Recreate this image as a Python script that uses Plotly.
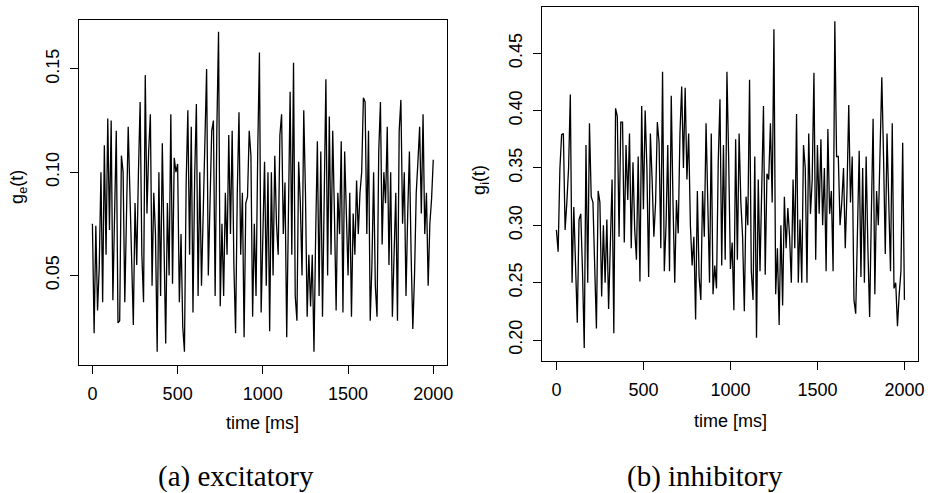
import plotly.graph_objects as go

# ---------------- data ----------------
time_ms = list(range(0, 2001, 10))

g_exc = [
    0.075, 0.022, 0.074, 0.033, 0.054, 0.100, 0.037, 0.113, 0.060, 0.126,
    0.072, 0.125, 0.038, 0.085, 0.120, 0.027, 0.028, 0.108, 0.100, 0.037,
    0.085, 0.122,
    # 220 ..
    0.090, 0.060, 0.026, 0.085, 0.055, 0.100, 0.134, 0.060, 0.037, 0.147,
    0.080, 0.110, 0.128, 0.045, 0.090, 0.070, 0.013, 0.100, 0.040, 0.114,
    0.060, 0.017, 0.085, 0.050, 0.128, 0.046, 0.107, 0.100, 0.104, 0.037,
    0.070, 0.025, 0.013, 0.095, 0.130, 0.060, 0.122, 0.032, 0.098, 0.133,
    0.040, 0.100, 0.045, 0.080, 0.110, 0.150, 0.050, 0.093, 0.120, 0.125,
    0.040, 0.120, 0.168, 0.035, 0.075, 0.040, 0.090, 0.060, 0.118, 0.070,
    0.120, 0.055, 0.022, 0.090,
    # 860 ..
    0.129, 0.060, 0.090, 0.020, 0.085, 0.088, 0.120, 0.108, 0.030, 0.075,
    0.040, 0.110, 0.158, 0.032, 0.070, 0.105, 0.045, 0.100, 0.023, 0.100,
    0.050, 0.108, 0.075, 0.060, 0.118, 0.128, 0.070, 0.095, 0.020, 0.070,
    0.139, 0.060, 0.153, 0.040, 0.028, 0.105, 0.085, 0.050, 0.130, 0.090,
    0.030, 0.060, 0.035, 0.060, 0.013, 0.070, 0.115, 0.040, 0.110, 0.030,
    0.090, 0.145, 0.050, 0.127, 0.060, 0.120, 0.080, 0.033, 0.090, 0.070,
    0.115, 0.032, 0.110, 0.080,
    # 1500 ..
    0.050, 0.090, 0.030, 0.080, 0.060, 0.096, 0.070, 0.090, 0.100, 0.136,
    0.134, 0.070, 0.120, 0.028, 0.055, 0.100, 0.045, 0.030, 0.110, 0.134,
    0.065, 0.100, 0.085, 0.122, 0.055, 0.100, 0.030, 0.060, 0.090, 0.028,
    0.120, 0.135, 0.075, 0.100, 0.040, 0.080, 0.110, 0.060, 0.024, 0.050,
    0.090, 0.105, 0.122, 0.080, 0.128, 0.070, 0.090, 0.045, 0.075, 0.087,
    0.106,
]

g_inh = [
    0.296, 0.277, 0.349, 0.379, 0.380, 0.296, 0.320, 0.350, 0.414, 0.250,
    0.316, 0.270, 0.215, 0.305, 0.310, 0.260, 0.193, 0.370, 0.250, 0.389,
    0.325, 0.320, 0.264, 0.210, 0.330, 0.320, 0.238, 0.300, 0.250, 0.305,
    0.227, 0.290, 0.340, 0.206, 0.402, 0.395, 0.290, 0.390, 0.390, 0.285,
    0.370, 0.322, 0.380, 0.280, 0.355, 0.296, 0.270, 0.360, 0.251, 0.404,
    0.314, 0.400, 0.350, 0.255, 0.380, 0.340, 0.290, 0.320, 0.390, 0.372,
    # 600 ..
    0.280, 0.434, 0.260, 0.300, 0.370, 0.260, 0.413, 0.320, 0.250, 0.322,
    0.293, 0.380, 0.421, 0.350, 0.420, 0.340, 0.380, 0.300, 0.265, 0.290,
    0.218, 0.330, 0.255, 0.235, 0.330, 0.290, 0.389, 0.320, 0.250, 0.380,
    0.240, 0.265, 0.245, 0.355, 0.410, 0.265, 0.370, 0.270, 0.434, 0.358,
    0.262, 0.285, 0.226, 0.375, 0.270, 0.380, 0.320, 0.290, 0.225, 0.325,
    0.300, 0.427, 0.260, 0.235, 0.360, 0.202, 0.340, 0.260, 0.350, 0.404,
    0.257, 0.345, 0.340, 0.389, 0.320, 0.471, 0.240,
    # 1270 ..
    0.280, 0.213, 0.300, 0.230, 0.325, 0.280, 0.315, 0.290, 0.250, 0.340,
    0.280, 0.397, 0.250, 0.305, 0.250, 0.370, 0.350, 0.250, 0.380, 0.310,
    0.340, 0.433, 0.270, 0.370, 0.310, 0.375, 0.300, 0.350, 0.260, 0.384,
    0.310, 0.330, 0.260, 0.478, 0.360, 0.360, 0.300, 0.320, 0.350, 0.280,
    0.330, 0.405, 0.320, 0.360, 0.235, 0.223, 0.290, 0.365, 0.255, 0.350,
    0.250, 0.360, 0.280, 0.220, 0.310, 0.393, 0.240, 0.330, 0.300, 0.370,
    0.429, 0.360,
    # 1890 ..
    0.275, 0.380, 0.320, 0.260, 0.389, 0.245, 0.250, 0.212, 0.240, 0.260,
    0.372, 0.235,
]

x_ticks = [0, 500, 1000, 1500, 2000]
exc_ticks = [0.05, 0.10, 0.15]
exc_tick_text = ["0.05", "0.10", "0.15"]
inh_ticks = [0.20, 0.25, 0.30, 0.35, 0.40, 0.45]
inh_tick_text = ["0.20", "0.25", "0.30", "0.35", "0.40", "0.45"]

x_label = "time [ms]"
y_label_exc = "g<sub>e</sub>(t)"
y_label_inh = "g<sub>i</sub>(t)"
caption_a = "(a) excitatory"
caption_b = "(b) inhibitory"

# ---------------- figure ----------------
W, H = 932, 493
def px(x):
    return x / W
def py(y):
    return 1 - y / H

fig = go.Figure()
fig.add_trace(go.Scatter(x=time_ms, y=g_exc, mode="lines",
                         line=dict(color="black", width=1.3),
                         xaxis="x", yaxis="y", showlegend=False))
fig.add_trace(go.Scatter(x=time_ms, y=g_inh, mode="lines",
                         line=dict(color="black", width=1.3),
                         xaxis="x2", yaxis="y2", showlegend=False))

sans = "Liberation Sans, Arial, sans-serif"
tickfont = dict(family=sans, size=18, color="black")

def xaxis(domain, anchor):
    return dict(domain=domain, anchor=anchor, range=[-80, 2080],
                tickmode="array", tickvals=x_ticks, ticktext=[str(v) for v in x_ticks],
                ticks="outside", ticklen=8, tickwidth=1, tickcolor="black",
                showline=True, linecolor="black", linewidth=1, mirror=True,
                showgrid=False, zeroline=False, tickfont=tickfont,
                ticklabelstandoff=4)

def yaxis(domain, anchor, rng, vals, text):
    return dict(domain=domain, anchor=anchor, range=rng,
                tickmode="array", tickvals=vals, ticktext=text, tickangle=-90,
                ticks="outside", ticklen=8, tickwidth=1, tickcolor="black",
                showline=True, linecolor="black", linewidth=1, mirror=True,
                showgrid=False, zeroline=False, tickfont=tickfont,
                ticklabelstandoff=4)

fig.update_layout(
    width=W, height=H,
    margin=dict(l=0, r=0, t=0, b=0),
    paper_bgcolor="white", plot_bgcolor="white",
    xaxis=xaxis([px(79.3), px(449.8)], "y"),
    yaxis=yaxis([py(365), py(20)], "x", [0.0066, 0.1737], exc_ticks, exc_tick_text),
    xaxis2=xaxis([px(546), px(924.3)], "y2"),
    yaxis2=yaxis([py(361), py(7.3)], "x2", [0.1817, 0.4901], inh_ticks, inh_tick_text),
)

labfont = dict(family=sans, size=18, color="black")
capfont = dict(family="Liberation Serif, Times New Roman, serif", size=29, color="black")
ann = [
    dict(text=x_label, x=px(264.7), y=py(423), font=labfont),
    dict(text=x_label, x=px(735), y=py(421), font=labfont),
    dict(text=y_label_exc, x=px(18), y=py(187), font=labfont, textangle=-90),
    dict(text=y_label_inh, x=px(483), y=py(180), font=labfont, textangle=-90),
    dict(text=caption_a, x=px(238), y=py(476), font=capfont),
    dict(text=caption_b, x=px(710), y=py(476), font=capfont),
]
for a in ann:
    fig.add_annotation(xref="paper", yref="paper", showarrow=False,
                       xanchor="center", yanchor="middle", **a)

fig.write_html("out.html")
